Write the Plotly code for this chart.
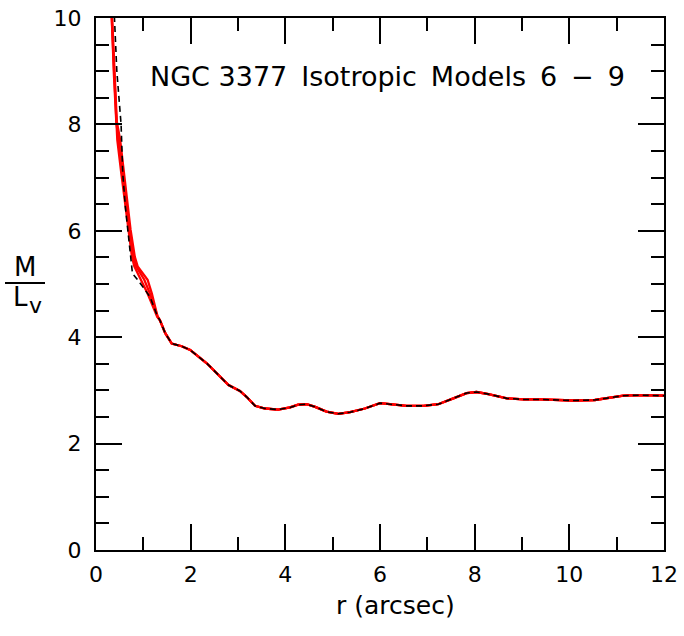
import plotly.graph_objects as go

# Shared outer profile (all models coincide beyond ~1.3 arcsec)
r_out = [1.35, 1.46, 1.60, 1.81, 1.99, 2.34, 2.55, 2.80, 3.04, 3.18, 3.36, 3.57, 3.85,
         4.10, 4.27, 4.45, 4.63, 4.87, 5.12, 5.37, 5.68, 6.00, 6.21, 6.56, 6.92, 7.23,
         7.55, 7.83, 8.04, 8.29, 8.68, 9.03, 9.38, 9.73, 10.08, 10.54, 10.79, 11.14,
         11.49, 12.0]
ml_out = [4.32, 4.08, 3.88, 3.83, 3.76, 3.51, 3.32, 3.10, 2.99, 2.88, 2.71, 2.66, 2.64,
          2.68, 2.73, 2.74, 2.69, 2.60, 2.56, 2.59, 2.66, 2.76, 2.74, 2.71, 2.71, 2.74,
          2.85, 2.95, 2.97, 2.93, 2.85, 2.83, 2.83, 2.82, 2.81, 2.82, 2.85, 2.90,
          2.91, 2.90]

# Inner parts of each model
r_m6 = [0.30, 0.33, 0.37, 0.42, 0.45, 0.535, 0.62, 0.68, 0.76, 0.81, 0.95, 1.09, 1.29]
ml_m6 = [10.6, 10.0, 9.0, 8.02, 7.71, 7.08, 6.45, 6.02, 5.51, 5.33, 5.08, 4.82, 4.39]
r_m7 = [0.31, 0.34, 0.385, 0.44, 0.51, 0.59, 0.68, 0.73, 0.82, 0.88, 1.09, 1.18, 1.30]
ml_m7 = [10.6, 10.0, 9.0, 8.05, 7.71, 7.08, 6.45, 6.02, 5.51, 5.33, 5.08, 4.82, 4.39]
r_m8 = [0.30, 0.335, 0.375, 0.43, 0.48, 0.56, 0.65, 0.70, 0.79, 0.85, 1.02, 1.14, 1.30]
ml_m8 = [10.6, 10.0, 9.0, 8.03, 7.71, 7.08, 6.45, 6.02, 5.51, 5.33, 5.08, 4.82, 4.39]
r_m9 = [0.36, 0.39, 0.44, 0.53, 0.545, 0.565, 0.62, 0.67, 0.72, 0.77, 0.93, 1.14, 1.30]
ml_m9 = [10.6, 9.93, 9.0, 8.0, 7.71, 7.08, 6.45, 6.0, 5.51, 5.2, 5.02, 4.76, 4.39]

x_ticks = [0, 2, 4, 6, 8, 10, 12]
y_ticks = [0, 2, 4, 6, 8, 10]

fig = go.Figure()
for rr, mm in [(r_m6, ml_m6), (r_m7, ml_m7), (r_m8, ml_m8)]:
    fig.add_trace(go.Scatter(x=rr + r_out, y=mm + ml_out, mode="lines",
                             line=dict(color="#ff0000", width=2.3), showlegend=False))
fig.add_trace(go.Scatter(x=r_m9 + r_out, y=ml_m9 + ml_out, mode="lines",
                         line=dict(color="black", width=1.6, dash="6px,4px"), showlegend=False))

font = "DejaVu Sans"
axis_common = dict(showline=True, linecolor="black", linewidth=2, mirror="ticks",
                   ticks="inside", ticklen=26, tickwidth=2, tickcolor="black",
                   showgrid=False, zeroline=False, automargin=False,
                   tickfont=dict(family=font, size=22, color="black"))
fig.update_xaxes(range=[0, 12], tickvals=x_ticks, ticktext=[str(v) for v in x_ticks],
                 minor=dict(ticks="inside", ticklen=13, tickwidth=2, tickcolor="black", dtick=1, tick0=0),
                 ticklabelstandoff=4, **axis_common)
fig.update_yaxes(range=[0, 10], tickvals=y_ticks, ticktext=[str(v) for v in y_ticks],
                 minor=dict(ticks="inside", ticklen=13, tickwidth=2, tickcolor="black", dtick=0.5, tick0=0),
                 ticklabelstandoff=8, **axis_common)

pw, ph = 568.0, 532.0
def px(x):
    return (x - 96) / pw
def py(y):
    return (550 - y) / ph

sp = " \u2009"
title = "NGC 3377" + sp + "Isotropic" + sp + "Models" + sp + "6" + sp + "\u2212" + sp + "9"
ann = [
    dict(text=title, x=px(148), y=py(77), xanchor="left",
         yanchor="middle", font=dict(family=font, size=27, color="black")),
    dict(text="r (arcsec)", x=px(395), y=py(605), xanchor="center", yanchor="middle",
         font=dict(family=font, size=25, color="black")),
    dict(text="M", x=px(25), y=py(267), xanchor="center", yanchor="middle",
         font=dict(family=font, size=26, color="black")),
    dict(text="L", x=px(20), y=py(297), xanchor="center", yanchor="middle",
         font=dict(family=font, size=26, color="black")),
    dict(text="v", x=px(35), y=py(305), xanchor="center", yanchor="middle",
         font=dict(family=font, size=22, color="black")),
]
for a in ann:
    a.update(xref="paper", yref="paper", showarrow=False)

fig.update_layout(
    width=684, height=636,
    margin=dict(l=96, r=20, t=18, b=86),
    plot_bgcolor="white", paper_bgcolor="white",
    annotations=ann,
    shapes=[dict(type="line", xref="paper", yref="paper", x0=px(5), x1=px(45),
                 y0=py(283), y1=py(283), line=dict(color="black", width=2))],
)
fig.write_html("out.html")
